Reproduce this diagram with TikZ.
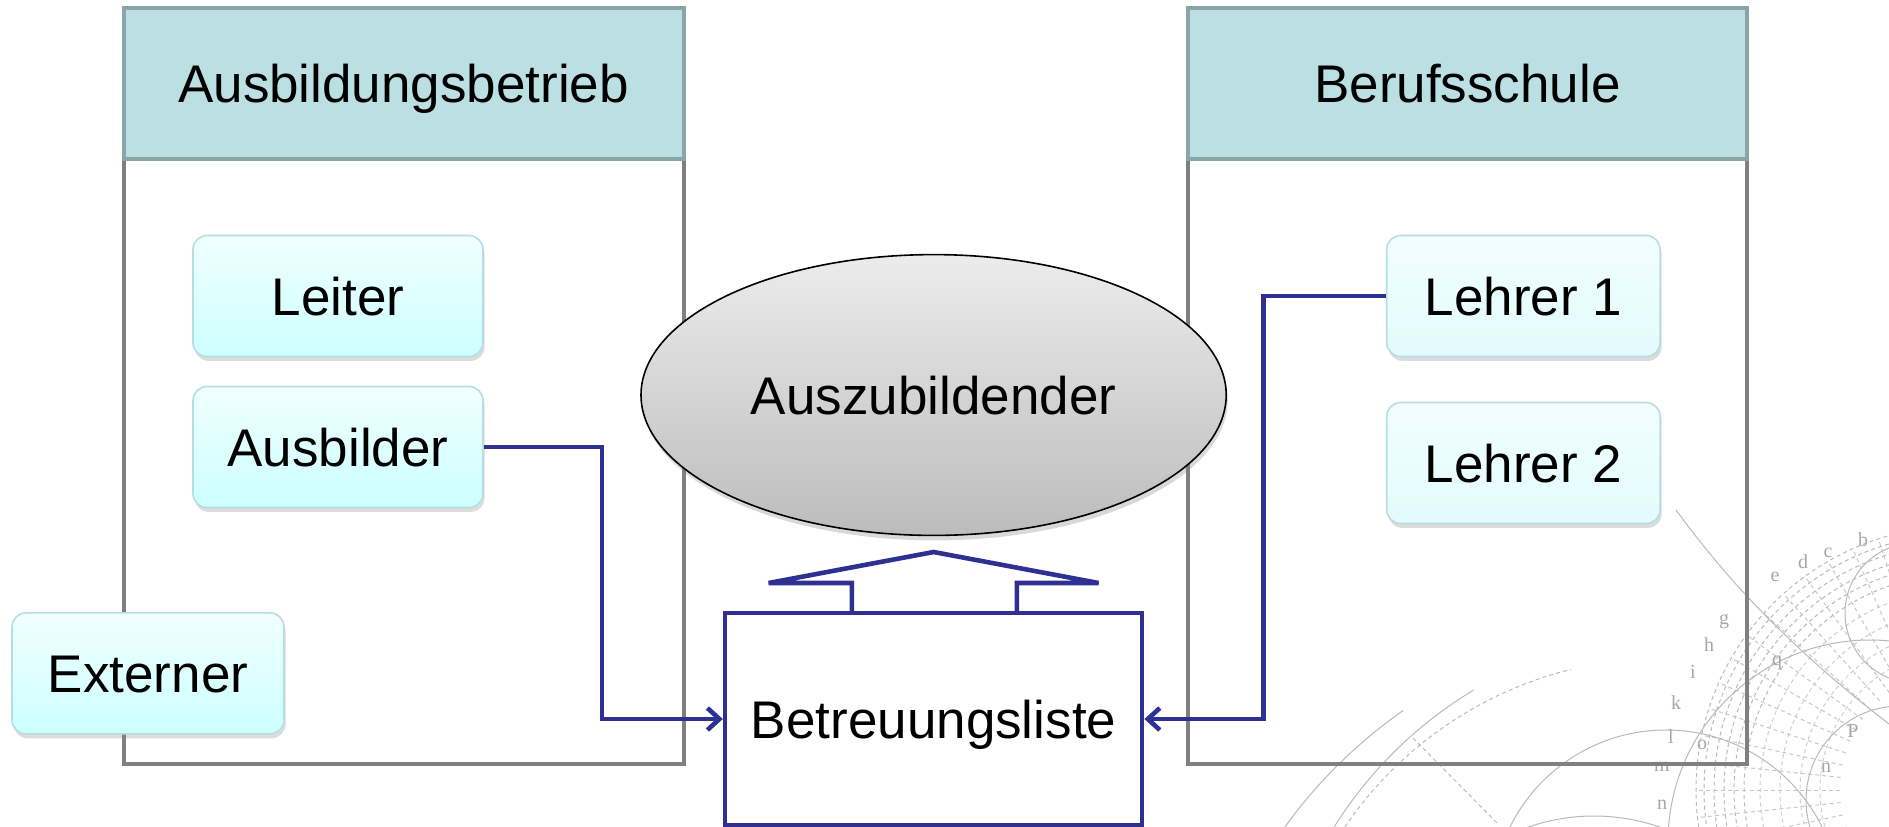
\documentclass[tikz,border=0pt]{standalone}
\usepackage{fontspec}
\setmainfont{Liberation Sans}
\newfontfamily\wmfont{Liberation Serif}
\usetikzlibrary{arrows.meta,shadows,shapes.geometric}
\definecolor{navy}{RGB}{46,49,146}
\definecolor{boxgray}{RGB}{128,128,128}
\definecolor{headfill}{RGB}{187,223,226}
\definecolor{headborder}{RGB}{138,165,168}
\definecolor{roleborder}{RGB}{183,221,228}
\definecolor{roletop}{RGB}{241,255,255}
\definecolor{rolebot}{RGB}{204,255,255}
\definecolor{lehrtop}{RGB}{242,254,255}
\definecolor{lehrbot}{RGB}{226,251,253}
\definecolor{elltop}{RGB}{236,236,236}
\definecolor{ellbot}{RGB}{188,188,188}
\definecolor{wmgray}{RGB}{185,185,185}
\begin{document}
\begin{tikzpicture}[x=1pt,y=-1pt,
  bigfont/.style={font=\fontsize{26.5}{30}\selectfont, text height=19.3pt, text depth=0pt},
  groupbox/.style={draw=boxgray, line width=2pt, minimum width=280pt, minimum height=378pt, inner sep=0pt},
  headbox/.style={draw=headborder, fill=headfill, line width=2pt, minimum width=280pt, minimum height=75.5pt, inner sep=0pt, bigfont},
  role/.style={rounded corners=7pt, draw=roleborder, line width=0.8pt, top color=roletop, bottom color=rolebot,
     drop shadow={opacity=0.28, shadow xshift=0.8pt, shadow yshift=-2.2pt}, minimum height=60.5pt, inner sep=0pt, bigfont},
  lehr/.style={role, top color=lehrtop, bottom color=lehrbot},
  person/.style={ellipse, draw=black, line width=0.8pt, top color=elltop, bottom color=ellbot,
     drop shadow={opacity=0.3, shadow xshift=0.8pt, shadow yshift=-2.5pt}, minimum width=292.6pt, minimum height=140.4pt, inner sep=0pt, bigfont},
  listbox/.style={draw=navy, fill=white, line width=2.3pt, minimum width=208.5pt, minimum height=106pt, inner sep=0pt, bigfont},
  conn/.style={draw=navy, line width=2.3pt, -{Straight Barb[length=6pt,width=11pt,line join=miter]}},
  blockarrow/.style={draw=navy, line width=2.3pt, line join=miter, miter limit=4},
  wm/.style={draw=wmgray, line width=0.5pt},
  wmdash/.style={wm, dash pattern=on 2pt off 1.6pt},
  wmletter/.style={text=wmgray!90!black, font=\wmfont\fontsize{10}{10}\selectfont, inner sep=0pt}
]
\useasboundingbox (0,0) rectangle (944.5,413);

% faint background drawing (bottom right)
\begin{scope}
  \clip (0,0) rectangle (944.5,413);
  \foreach \r in {108,113,118,123,128,132} \draw[wmdash] (980,395) circle[radius=\r];
  \foreach \r in {70,80,90,100} \draw[wmdash, draw=wmgray!70] (980,395) circle[radius=\r];
  \foreach \a in {150,156,...,300} \draw[wmdash, draw=wmgray!80] (980,395) ++(\a:60) -- ++(\a:72);
  \draw[wm] (935,421) circle[radius=101];
  \draw[wm] (833,452) circle[radius=87];
  \draw[wm] (797,508) circle[radius=100];
  \draw[wm] (957.5,306.5) circle[radius=35];
  \draw[wm] (950,400) circle[radius=47];
  \draw[wmdash] (832,522) ++(195:193) arc[start angle=195, end angle=256, radius=193];
  \draw[wm] (845,525) ++(200:210) arc[start angle=200, end angle=239, radius=210];
  \draw[wm] (845,560) ++(210:250) arc[start angle=210, end angle=235, radius=250];
  \draw[wmdash] (706.5,369) -- (748.5,411.5);
  \draw[wm] (838,255) .. controls (860,285) and (890,320) .. (944.5,362);
  \foreach \t/\px/\py [count=\i] in {b/931.5/270, c/914/276.5, d/901.5/281, e/887.5/288.5, g/862/311, h/854.5/322.5,
      i/846.5/336, k/838/351.5, l/835.5/368.5, m/831/383.5, n/831/402.5, q/888.5/331.5, o/851/372.5, P/926.5/365.5, n/913/384}
    \node[wmletter] (wm\i) at (\px,\py) {\t};
\end{scope}

% group boxes
\node[groupbox] (lbox) at (201.8,193) {};
\node[headbox, anchor=north] (lhead) at (lbox.north) {Ausbildungsbetrieb};
\node[groupbox, minimum width=279.5pt] (rbox) at (733.7,193) {};
\node[headbox, minimum width=279.5pt, anchor=north] (rhead) at (rbox.north) {Berufsschule};

% role boxes
\node[role, minimum width=145pt] (leiter) at (169,148) {Leiter};
\node[role, minimum width=145pt] (ausb) at (169,223.5) {Ausbilder};
\node[role, minimum width=136pt] (ext) at (74,336.7) {Externer};
\node[lehr, minimum width=136.7pt] (l1) at (761.7,148) {Lehrer 1};
\node[lehr, minimum width=136.7pt] (l2) at (761.7,231.5) {Lehrer 2};

% central elements
\node[person] (azubi) at (466.8,197.5) {Auszubildender};
\node[listbox] (betr) at (466.8,359.5) {Betreuungsliste};

% connectors
\coordinate (cl) at (301,0);
\coordinate (cr) at (631.8,0);
\draw[conn] (ausb.east) -- (ausb.east -| cl) |- (betr.west);
\draw[conn] (l1.west) -- (l1.west -| cr) |- (betr.east);

% hollow block arrow from list to Auszubildender
\draw[blockarrow] (425.9,306.5) -- (425.9,291.5) -- (384.3,291.5) -- (466.8,276) -- (549.3,291.5) -- (508.4,291.5) -- (508.4,306.5);
\end{tikzpicture}
\end{document}
